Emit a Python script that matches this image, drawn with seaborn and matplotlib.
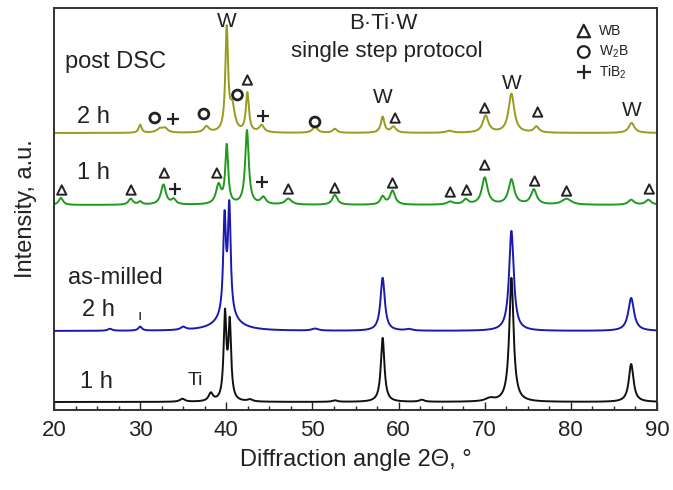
import numpy as np
import pandas as pd
import matplotlib
matplotlib.use("Agg")
import matplotlib.pyplot as plt
import seaborn as sns
from matplotlib.ticker import MultipleLocator

# ---------------- data ----------------
# each pattern: baseline level, peak centres (2theta), peak heights above baseline, FWHM (deg)
black_base = 8
black_pos = [34.9, 38.2, 39.85, 40.4, 42.75, 52.6, 58.15, 62.7, 70.6, 73.1, 87.0]
black_amp = [3, 8, 85, 76, 2, 1.5, 64, 2, 3, 124, 38]
black_fwhm = [0.7, 0.6, 0.38, 0.38, 0.7, 0.7, 0.5, 0.7, 1.2, 0.6, 0.65]

blue_base = 79
blue_pos = [26.5, 30.0, 35.0, 39.8, 40.35, 40.1, 50.3, 58.15, 61.2, 73.1, 87.0]
blue_amp = [2, 4, 3, 96, 107, 14, 2, 53, 1.5, 100, 33]
blue_fwhm = [0.6, 0.5, 0.7, 0.38, 0.38, 3.0, 0.9, 0.6, 0.9, 0.65, 0.8]

green_base = 205
green_pos = [20.8, 28.9, 30.0, 32.7, 33.9, 39.1, 40.05, 42.4, 44.3, 47.2, 52.6,
             58.15, 59.3, 66.0, 67.8, 70.0, 73.1, 75.7, 79.5, 87.0, 89.0]
green_amp = [7, 6, 3, 20, 5, 19, 58, 74, 7, 6, 10,
             8, 14, 3, 5, 27, 25, 15, 6, 5, 5]
green_fwhm = [0.6, 0.6, 0.5, 0.7, 0.6, 0.7, 0.4, 0.5, 0.7, 0.9, 0.7,
              0.6, 0.7, 0.9, 0.7, 0.8, 0.8, 0.8, 1.3, 0.8, 0.8]

olive_base = 277
olive_pos = [30.0, 32.3, 32.9, 37.7, 40.05, 40.7, 42.45, 44.1, 50.3, 52.6,
             58.15, 59.4, 65.9, 70.1, 73.1, 76.0, 87.05]
olive_amp = [8, 4, 4, 6, 102, 24, 39, 7, 6, 4,
             16, 6, 2, 17, 39, 6, 10]
olive_fwhm = [0.4, 0.9, 0.7, 0.7, 0.38, 0.7, 0.42, 0.7, 0.7, 0.6,
              0.5, 0.7, 0.9, 0.8, 0.8, 0.7, 0.8]

# phase markers (2theta, level)
wb_x = [42.45, 59.6, 70.0, 76.15,
        20.9, 28.95, 32.8, 38.9, 47.2, 52.6, 59.3, 66.0, 67.9, 70.0, 75.8, 79.5, 89.1]
wb_y = [330, 292, 302, 298,
        220, 220, 237, 237, 221, 222, 227, 218, 220, 245, 229, 219, 221]
w2b_x = [31.7, 37.4, 41.3, 50.3]
w2b_y = [292, 296, 315, 288]
tib2_x = [33.85, 44.3, 34.05, 44.2]
tib2_y = [291, 294, 221, 228]
w_x = [40.05, 58.15, 73.1, 87.05]
w_y = [389, 313, 327, 300]

series_names = ["as-milled 1 h", "as-milled 2 h", "post DSC 1 h", "post DSC 2 h"]
series_colors = ["#111111", "#1a1ab0", "#1f9a1f", "#9a9a1c"]

# ---------------- build profiles ----------------
two_theta = np.linspace(20, 90, 3501)

def pattern(base, pos, amp, fwhm):
    y = np.full_like(two_theta, float(base))
    for p, a, w in zip(pos, amp, fwhm):
        y += a / (1 + (2 * (two_theta - p) / w) ** 2)
    return y

curves = [pattern(black_base, black_pos, black_amp, black_fwhm),
          pattern(blue_base, blue_pos, blue_amp, blue_fwhm),
          pattern(green_base, green_pos, green_amp, green_fwhm),
          pattern(olive_base, olive_pos, olive_amp, olive_fwhm)]

df = pd.concat([pd.DataFrame({"angle": two_theta, "intensity": c, "series": n})
                for c, n in zip(curves, series_names)], ignore_index=True)

# ---------------- plot ----------------
sns.set_theme(style="white")
plt.rcParams["font.family"] = ["Liberation Sans", "DejaVu Sans"]
plt.rcParams["mathtext.fontset"] = "custom"
plt.rcParams["mathtext.rm"] = "Liberation Sans"
plt.rcParams["mathtext.default"] = "regular"

fig = plt.figure(figsize=(6.73, 4.90), dpi=100)
ax = fig.add_axes([54 / 673, 80 / 490, 603 / 673, 402 / 490])

sns.lineplot(data=df, x="angle", y="intensity", hue="series",
             palette=dict(zip(series_names, series_colors)),
             linewidth=1.4, legend=False, ax=ax, estimator=None, sort=False)

ax.set_xlim(20, 90)
ax.set_ylim(0, 402)
ax.set_yticks([])
ax.xaxis.set_major_locator(MultipleLocator(10))
ax.xaxis.set_minor_locator(MultipleLocator(2.5))
ax.tick_params(axis="x", which="major", direction="in", length=6, width=1,
               labelsize=16, bottom=True, top=False, pad=7, colors="#222222")
ax.tick_params(axis="x", which="minor", direction="in", length=3, width=1,
               bottom=True, top=False)
for s in ax.spines.values():
    s.set_color("#333333")
    s.set_linewidth(1.4)
ax.set_xlabel("Diffraction angle 2Θ, °", fontsize=17, color="#222222", labelpad=6)
ax.set_ylabel("Intensity, a.u.", fontsize=17, color="#222222", labelpad=12)

# phase markers
ax.scatter(wb_x, wb_y, marker="^", s=45, facecolors="none", edgecolors="#222222",
           linewidths=1.4, zorder=5)
ax.scatter(w2b_x, w2b_y, marker="o", s=50, facecolors="none", edgecolors="#222222",
           linewidths=2.0, zorder=5)
ax.scatter(tib2_x, tib2_y, marker="+", s=70, color="#222222", linewidths=1.6, zorder=5)
for xx, yy in zip(w_x, w_y):
    ax.text(xx, yy, "W", fontsize=15, ha="center", va="center", color="#222222")

# labels
tc = "#222222"
ax.text(21.3, 348, "post DSC", fontsize=17, ha="left", va="center", color=tc)
ax.text(22.7, 293, "2 h", fontsize=17, ha="left", va="center", color=tc)
ax.text(22.7, 237, "1 h", fontsize=17, ha="left", va="center", color=tc)
ax.text(21.6, 132, "as-milled", fontsize=17, ha="left", va="center", color=tc)
ax.text(23.2, 100, "2 h", fontsize=17, ha="left", va="center", color=tc)
ax.text(23.0, 28, "1 h", fontsize=17, ha="left", va="center", color=tc)
ax.text(35.5, 30, "Ti", fontsize=14, ha="left", va="center", color=tc)
ax.text(30.0, 94, "ı", fontsize=11, ha="center", va="center", color=tc)
ax.text(58.2, 387, "B·Ti·W", fontsize=16, ha="center", va="center", color=tc)
ax.text(58.65, 359, "single step protocol", fontsize=16, ha="center", va="center", color=tc)

# phase legend
ax.scatter([81.5], [379], marker="^", s=80, facecolors="none", edgecolors="#222222", linewidths=1.6)
ax.scatter([81.5], [358], marker="o", s=70, facecolors="none", edgecolors="#222222", linewidths=1.6)
ax.scatter([81.5], [338], marker="+", s=110, color="#222222", linewidths=1.6)
ax.text(83.3, 379, "WB", fontsize=10, ha="left", va="center", color=tc)
ax.text(83.3, 358, "W$_2$B", fontsize=10, ha="left", va="center", color=tc)
ax.text(83.3, 338, "TiB$_2$", fontsize=10, ha="left", va="center", color=tc)

fig.savefig("out.png", dpi=100)
